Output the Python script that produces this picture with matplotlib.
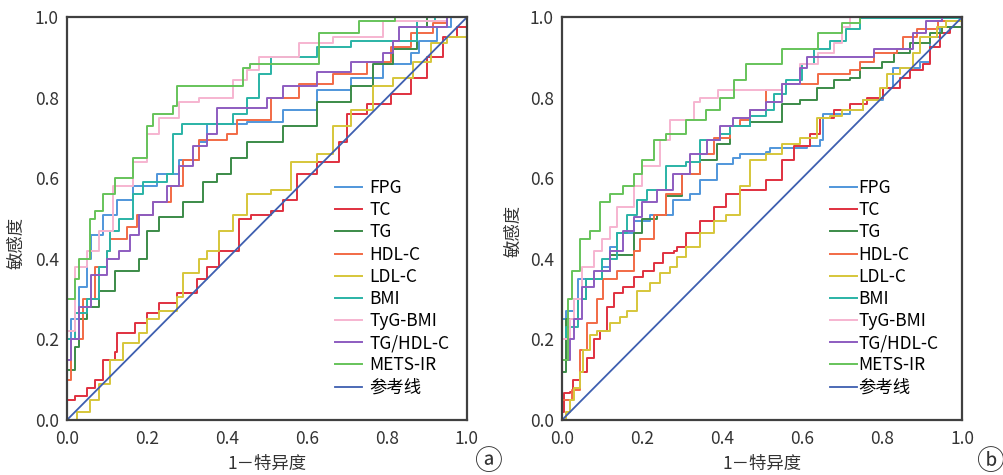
import matplotlib
matplotlib.use('Agg')
import matplotlib.pyplot as plt

plt.rcParams['font.family'] = ['Noto Sans CJK SC', 'DejaVu Sans']

# 图例名称与颜色
labels = ['FPG', 'TC', 'TG', 'HDL-C', 'LDL-C', 'BMI', 'TyG-BMI', 'TG/HDL-C', 'METS-IR', '参考线']
colors = ['#5096da', '#e0303f', '#3b8b48', '#f26a45', '#d6c63a', '#2ab3a6',
          '#f6b4d0', '#8d5cc0', '#66c35a', '#3e5fb0']

# 图 a: (1-特异度, 敏感度)
fpg_a = [(0, 0), (0, 0.2), (0.01, 0.25), (0.03, 0.33), (0.05, 0.40), (0.06, 0.46), (0.09, 0.51),
         (0.125, 0.545), (0.165, 0.58), (0.225, 0.61), (0.28, 0.645), (0.33, 0.69), (0.35, 0.735),
         (0.415, 0.735), (0.45, 0.74), (0.54, 0.77), (0.625, 0.82), (0.71, 0.85), (0.79, 0.885),
         (0.86, 0.91), (0.88, 0.94), (0.925, 0.975), (0.96, 1.0), (1, 1)]
tc_a = [(0, 0), (0, 0.05), (0.02, 0.06), (0.05, 0.08), (0.07, 0.10), (0.09, 0.15), (0.12, 0.17),
        (0.125, 0.215), (0.17, 0.24), (0.2, 0.265), (0.23, 0.29), (0.275, 0.315), (0.325, 0.35),
        (0.35, 0.38), (0.38, 0.42), (0.43, 0.50), (0.46, 0.51), (0.51, 0.52), (0.54, 0.545),
        (0.575, 0.61), (0.625, 0.64), (0.68, 0.69), (0.70, 0.76), (0.75, 0.785), (0.81, 0.81),
        (0.86, 0.85), (0.9, 0.90), (0.94, 0.95), (0.975, 0.975), (1, 1)]
tg_a = [(0, 0), (0, 0.125), (0.02, 0.18), (0.03, 0.25), (0.05, 0.28), (0.08, 0.32), (0.12, 0.37),
        (0.18, 0.40), (0.2, 0.47), (0.23, 0.505), (0.29, 0.54), (0.34, 0.59), (0.375, 0.61),
        (0.41, 0.65), (0.45, 0.69), (0.54, 0.73), (0.625, 0.79), (0.71, 0.83), (0.765, 0.885),
        (0.815, 0.92), (0.875, 0.975), (0.9, 1.0), (1, 1)]
hdl_a = [(0, 0), (0, 0.10), (0.01, 0.2), (0.04, 0.3), (0.07, 0.38), (0.1, 0.42), (0.107, 0.45),
         (0.15, 0.48), (0.175, 0.51), (0.215, 0.54), (0.26, 0.58), (0.29, 0.645), (0.33, 0.695),
         (0.40, 0.71), (0.425, 0.745), (0.46, 0.745), (0.51, 0.80), (0.58, 0.835), (0.665, 0.86),
         (0.75, 0.89), (0.81, 0.925), (0.86, 0.96), (0.915, 0.985), (0.95, 1.0), (1, 1)]
ldl_a = [(0, 0), (0.025, 0.02), (0.057, 0.05), (0.08, 0.09), (0.107, 0.15), (0.14, 0.19),
         (0.18, 0.215), (0.2, 0.25), (0.23, 0.27), (0.275, 0.305), (0.29, 0.365), (0.33, 0.40),
         (0.35, 0.42), (0.38, 0.47), (0.415, 0.51), (0.45, 0.56), (0.51, 0.57), (0.56, 0.64),
         (0.625, 0.66), (0.665, 0.73), (0.71, 0.77), (0.765, 0.83), (0.815, 0.85), (0.865, 0.89),
         (0.91, 0.935), (0.95, 0.95), (1.0, 0.95), (1, 1)]
bmi_a = [(0, 0), (0, 0.2), (0.02, 0.265), (0.05, 0.3), (0.08, 0.38), (0.1, 0.42), (0.107, 0.47),
         (0.13, 0.50), (0.165, 0.56), (0.19, 0.59), (0.25, 0.61), (0.265, 0.71), (0.2875, 0.735),
         (0.40, 0.735), (0.415, 0.76), (0.45, 0.80), (0.48, 0.86), (0.51, 0.90), (0.625, 0.925),
         (0.71, 0.94), (0.875, 0.99), (0.92, 1.0), (1, 1)]
tyg_a = [(0, 0), (0, 0.22), (0.02, 0.38), (0.05, 0.42), (0.08, 0.47), (0.115, 0.58), (0.165, 0.64),
         (0.2, 0.71), (0.23, 0.75), (0.28, 0.79), (0.33, 0.80), (0.415, 0.845), (0.45, 0.87),
         (0.48, 0.90), (0.58, 0.935), (0.665, 0.95), (0.79, 0.99), (0.95, 1.0), (1, 1)]
tghdl_a = [(0, 0), (0, 0.15), (0.01, 0.2), (0.03, 0.28), (0.06, 0.36), (0.1, 0.40), (0.13, 0.42),
           (0.158, 0.46), (0.18, 0.51), (0.215, 0.54), (0.25, 0.58), (0.28, 0.63), (0.315, 0.68),
           (0.35, 0.71), (0.375, 0.775), (0.46, 0.775), (0.50, 0.80), (0.54, 0.83), (0.625, 0.865),
           (0.71, 0.89), (0.79, 0.91), (0.815, 0.94), (0.83, 0.975), (0.95, 1.0), (1, 1)]
mets_a = [(0, 0), (0, 0.30), (0.02, 0.35), (0.03, 0.40), (0.057, 0.50), (0.07, 0.52), (0.09, 0.56),
          (0.12, 0.60), (0.165, 0.65), (0.2, 0.73), (0.215, 0.76), (0.265, 0.78), (0.275, 0.83),
          (0.365, 0.83), (0.44, 0.875), (0.4575, 0.885), (0.63, 0.96), (0.73, 0.99), (0.82, 1.0), (1, 1)]
ref_a = [(0, 0), (1, 1)]

# 图 b
fpg_b = [(0, 0), (0, 0.25), (0.01, 0.27), (0.03, 0.30), (0.04, 0.35), (0.1, 0.38), (0.12, 0.43),
         (0.1375, 0.465), (0.18, 0.495), (0.22, 0.51), (0.25, 0.51), (0.2775, 0.545), (0.32, 0.56),
         (0.345, 0.595), (0.3875, 0.635), (0.4275, 0.65), (0.445, 0.66), (0.51, 0.665), (0.52, 0.675),
         (0.6125, 0.68), (0.645, 0.695), (0.6525, 0.76), (0.72, 0.77), (0.7525, 0.795), (0.8025, 0.825),
         (0.8275, 0.875), (0.85, 0.875), (0.895, 0.89), (0.92, 0.95), (0.945, 0.975), (1.0, 0.975)]
tc_b = [(0, 0), (0, 0.02), (0.005, 0.067), (0.02, 0.07), (0.0275, 0.10), (0.045, 0.12), (0.0625, 0.155),
        (0.08, 0.20), (0.095, 0.22), (0.1125, 0.28), (0.13, 0.315), (0.1525, 0.33), (0.18, 0.355),
        (0.2025, 0.37), (0.23, 0.39), (0.2525, 0.415), (0.28, 0.42), (0.2875, 0.43), (0.31, 0.465),
        (0.345, 0.495), (0.38, 0.53), (0.41, 0.56), (0.445, 0.57), (0.47, 0.57), (0.51, 0.595),
        (0.55, 0.645), (0.58, 0.68), (0.62, 0.71), (0.645, 0.75), (0.68, 0.77), (0.72, 0.785),
        (0.7625, 0.80), (0.8025, 0.825), (0.845, 0.85), (0.87, 0.87), (0.9025, 0.885), (0.92, 0.925),
        (0.945, 0.96), (0.97, 0.975), (1, 1)]
tg_b = [(0, 0), (0, 0.12), (0.01, 0.25), (0.04, 0.30), (0.06, 0.35), (0.1, 0.37), (0.12, 0.41),
        (0.17, 0.41), (0.18, 0.465), (0.2, 0.50), (0.2375, 0.51), (0.26, 0.555), (0.30, 0.61),
        (0.345, 0.645), (0.3875, 0.685), (0.42, 0.73), (0.47, 0.74), (0.55, 0.785), (0.595, 0.795),
        (0.6375, 0.825), (0.68, 0.845), (0.72, 0.85), (0.745, 0.875), (0.80, 0.89), (0.83, 0.91),
        (0.87, 0.935), (0.92, 0.96), (0.95, 0.975), (1, 1)]
hdl_b = [(0, 0), (0, 0.05), (0.025, 0.075), (0.045, 0.175), (0.0625, 0.24), (0.0875, 0.30),
         (0.1025, 0.35), (0.1375, 0.37), (0.18, 0.42), (0.195, 0.45), (0.23, 0.51), (0.26, 0.56),
         (0.3, 0.61), (0.345, 0.66), (0.38, 0.70), (0.42, 0.73), (0.445, 0.745), (0.47, 0.77),
         (0.51, 0.82), (0.55, 0.835), (0.64, 0.86), (0.72, 0.87), (0.745, 0.89), (0.78, 0.91),
         (0.8375, 0.92), (0.8525, 0.95), (0.8875, 0.97), (0.94, 0.99), (1, 1)]
ldl_b = [(0, 0), (0.01, 0.02), (0.02, 0.05), (0.03, 0.08), (0.045, 0.12), (0.0525, 0.175), (0.07, 0.21),
         (0.0875, 0.22), (0.12, 0.24), (0.145, 0.255), (0.1625, 0.27), (0.1875, 0.32), (0.22, 0.34),
         (0.245, 0.365), (0.27, 0.38), (0.2875, 0.405), (0.31, 0.43), (0.345, 0.465), (0.38, 0.495),
         (0.41, 0.51), (0.445, 0.58), (0.47, 0.645), (0.51, 0.66), (0.55, 0.685), (0.595, 0.70),
         (0.6375, 0.75), (0.67, 0.755), (0.70, 0.77), (0.7525, 0.795), (0.795, 0.825), (0.8125, 0.86),
         (0.845, 0.875), (0.8775, 0.91), (0.895, 0.95), (0.9375, 0.975), (0.96, 0.99), (1, 1)]
bmi_b = [(0, 0), (0, 0.2), (0.01, 0.23), (0.04, 0.30), (0.06, 0.35), (0.1, 0.40), (0.1375, 0.465),
         (0.1625, 0.51), (0.1875, 0.545), (0.2125, 0.57), (0.24, 0.57), (0.26, 0.63), (0.31, 0.64),
         (0.345, 0.695), (0.395, 0.71), (0.42, 0.73), (0.47, 0.755), (0.51, 0.77), (0.53, 0.81),
         (0.56, 0.845), (0.60, 0.885), (0.63, 0.92), (0.67, 0.94), (0.71, 0.97), (0.745, 0.997),
         (0.86, 0.997), (1, 1)]
tyg_b = [(0, 0), (0, 0.2), (0.02, 0.25), (0.03, 0.30), (0.05, 0.38), (0.08, 0.42), (0.10, 0.45),
         (0.12, 0.48), (0.1375, 0.53), (0.18, 0.58), (0.20, 0.63), (0.245, 0.695), (0.27, 0.745),
         (0.30, 0.745), (0.33, 0.79), (0.345, 0.80), (0.39, 0.82), (0.47, 0.82), (0.55, 0.835),
         (0.595, 0.885), (0.64, 0.91), (0.68, 0.935), (0.70, 0.975), (0.72, 1.0), (1, 1)]
tghdl_b = [(0, 0), (0, 0.15), (0.02, 0.2), (0.03, 0.25), (0.05, 0.33), (0.08, 0.37), (0.12, 0.42),
           (0.1525, 0.47), (0.18, 0.505), (0.2, 0.54), (0.2375, 0.57), (0.2775, 0.61), (0.32, 0.66),
           (0.3625, 0.695), (0.395, 0.73), (0.4275, 0.75), (0.47, 0.77), (0.51, 0.79), (0.55, 0.835),
           (0.595, 0.875), (0.6125, 0.90), (0.78, 0.90), (0.78, 0.92), (0.87, 0.92), (0.8775, 0.96),
           (0.91, 0.99), (0.95, 1.0), (1, 1)]
mets_b = [(0, 0), (0, 0.15), (0.015, 0.30), (0.025, 0.37), (0.045, 0.45), (0.07, 0.47), (0.095, 0.54),
          (0.12, 0.56), (0.1525, 0.58), (0.18, 0.61), (0.20, 0.645), (0.23, 0.695), (0.26, 0.71),
          (0.31, 0.745), (0.36, 0.77), (0.395, 0.80), (0.43, 0.845), (0.46, 0.885), (0.55, 0.92),
          (0.64, 0.96), (0.70, 0.985), (0.745, 1.0), (0.86, 1.0), (1, 1)]
ref_b = [(0, 0), (1, 1)]

curves_a = [fpg_a, tc_a, tg_a, hdl_a, ldl_a, bmi_a, tyg_a, tghdl_a, mets_a, ref_a]
curves_b = [fpg_b, tc_b, tg_b, hdl_b, ldl_b, bmi_b, tyg_b, tghdl_b, mets_b, ref_b]
ticks = [0.0, 0.2, 0.4, 0.6, 0.8, 1.0]

fig = plt.figure(figsize=(10.04, 4.75), dpi=100)
ax_a = fig.add_axes([0.0667, 0.1158, 0.3984, 0.848])
ax_b = fig.add_axes([0.5598, 0.1158, 0.3984, 0.848])


def draw(ax, curves, textpad, ylab_pos):
    for pts, lab, c in zip(curves, labels, colors):
        xs = [p[0] for p in pts]
        ys = [p[1] for p in pts]
        if lab == '参考线':
            ax.plot(xs, ys, color=c, lw=1.3, label=lab)
        else:
            ax.plot(xs, ys, color=c, lw=1.4, label=lab, drawstyle='steps-post')
    ax.set_xlim(0, 1)
    ax.set_ylim(0, 1)
    ax.set_xticks(ticks)
    ax.set_yticks(ticks)
    ax.set_xticklabels(['%.1f' % t for t in ticks])
    ax.set_yticklabels(['%.1f' % t for t in ticks])
    ax.tick_params(length=0, labelsize=12.5, colors='#333333')
    ax.tick_params(axis='x', pad=7)
    ax.tick_params(axis='y', pad=6)
    for s in ax.spines.values():
        s.set_color('#404040')
        s.set_linewidth(1.6)
    ax.set_xlabel('1－特异度', fontsize=12.5, color='#333333', labelpad=5)
    ax.set_ylabel('敏感度', fontsize=12.5, color='#333333')
    ax.yaxis.set_label_coords(ylab_pos[0], ylab_pos[1])
    ax.legend(loc='upper left', bbox_to_anchor=(0.67, 0.598), frameon=False, fontsize=12.5,
              borderaxespad=0, handlelength=1.55, handletextpad=textpad, labelspacing=0.24,
              borderpad=0)


draw(ax_a, curves_a, 0.45, (-0.105, 0.44))
draw(ax_b, curves_b, 0.1, (-0.1, 0.47))

fig.text(488 / 1004, 1 - 462 / 475, 'ⓐ', fontsize=20, ha='center', va='center', color='#333333')
fig.text(990 / 1004, 1 - 462 / 475, 'ⓑ', fontsize=20, ha='center', va='center', color='#333333')

plt.savefig('out.png', dpi=100)
